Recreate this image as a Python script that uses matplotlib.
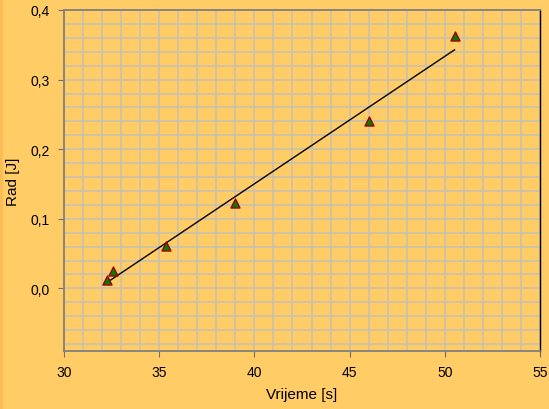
import matplotlib
matplotlib.use("Agg")
import matplotlib.pyplot as plt
import numpy as np
from matplotlib.patches import Rectangle
from matplotlib.ticker import MultipleLocator, FuncFormatter

# measured points
vrijeme = [32.25, 32.55, 35.36, 39.0, 46.04, 50.51]
rad = [0.012, 0.025, 0.061, 0.122, 0.241, 0.362]

x_ticks = [30, 35, 40, 45, 50, 55]
y_ticks = [0.0, 0.1, 0.2, 0.3, 0.4]

BG = "#FFCC66"
GRID = "#C8C0B0"

plt.rcParams["font.family"] = ["Liberation Sans", "DejaVu Sans"]

fig = plt.figure(figsize=(5.49, 4.10), dpi=100, facecolor=BG)
fig.patches.append(Rectangle((0, 0), 3 / 549, 1, transform=fig.transFigure,
                             facecolor="#FFBB55", edgecolor="none", zorder=0))
ax = fig.add_axes([64 / 549, 1 - 352 / 410, 476 / 549, 341 / 410])
ax.set_facecolor(BG)

# linear trend line over the measured range
k, n = np.polyfit(vrijeme, rad, 1)
xs = np.array([min(vrijeme), max(vrijeme)])
ax.plot(xs, k * xs + n, color="black", lw=1.0, zorder=3)

ax.scatter(vrijeme, rad, marker="^", s=42, facecolor="#008000",
           edgecolor="#A00000", linewidth=1.0, zorder=4)

ax.set_xlim(30, 55)
ax.set_ylim(-0.09, 0.4)
ax.set_xticks(x_ticks)
ax.set_yticks(y_ticks)
ax.xaxis.set_minor_locator(MultipleLocator(1))
ax.yaxis.set_minor_locator(MultipleLocator(0.02))
ax.grid(which="both", color=GRID, lw=1.2, zorder=0)
ax.set_axisbelow(True)
ax.tick_params(which="minor", length=0)
ax.tick_params(which="major", direction="out", length=4, color="#707070",
               labelsize=10, pad=6)
ax.yaxis.set_major_formatter(FuncFormatter(lambda v, p: f"{v:.1f}".replace(".", ",")))

for side in ["left", "bottom", "top"]:
    ax.spines[side].set_color("#808080")
    ax.spines[side].set_linewidth(1.3)
ax.spines["right"].set_color("black")
ax.spines["right"].set_linewidth(1.0)

ax.set_xlabel("Vrijeme [s]", fontsize=11, labelpad=6)
ax.set_ylabel("Rad [J]", fontsize=11, labelpad=8)

fig.savefig("out.png", dpi=100, facecolor=BG)
